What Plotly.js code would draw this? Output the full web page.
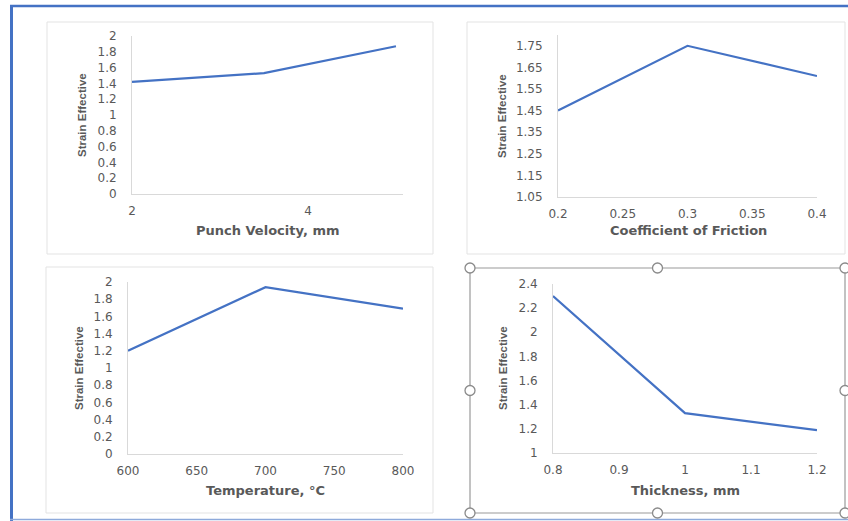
<!DOCTYPE html>
<html>
<head>
<meta charset="utf-8">
<script src="https://cdn.plot.ly/plotly-3.0.1.min.js"></script>
<style>html,body{margin:0;padding:0;background:#fff;}#chart{width:848px;height:521px;}</style>
</head>
<body>
<div id="chart"></div>
<script>
// ---- data ----
var velocity = [2, 3.5, 5];
var strainVelocity = [1.42, 1.53, 1.87];
var friction = [0.2, 0.3, 0.4];
var strainFriction = [1.45, 1.75, 1.61];
var temperature = [600, 700, 800];
var strainTemperature = [1.20, 1.94, 1.69];
var thickness = [0.8, 1.0, 1.2];
var strainThickness = [2.30, 1.33, 1.19];
var yTitle = "Strain Effective";
var xTitles = ["Punch Velocity, mm", "Coefficient of Friction", "Temperature, \u00B0C", "Thickness, mm"];

var W = 848, H = 521;
function px(x){ return x / W; }
function py(y){ return 1 - y / H; }

var lineColor = "#4472C4";
var tickFont = {family: "DejaVu Sans, sans-serif", size: 12, color: "#595959"};
var xTitleFont = {family: "DejaVu Sans, sans-serif", size: 13, color: "#595959", weight: "bold"};
var yTitleFont = {family: "Liberation Sans, Arial, sans-serif", size: 11.5, color: "#595959", weight: "bold"};

function trace(x, y, xa, ya){
  return {x: x, y: y, xaxis: xa, yaxis: ya, type: "scatter", mode: "lines",
          line: {color: lineColor, width: 2.2}, hoverinfo: "x+y"};
}
var data = [
  trace(velocity, strainVelocity, "x", "y"),
  trace(friction, strainFriction, "x2", "y2"),
  trace(temperature, strainTemperature, "x3", "y3"),
  trace(thickness, strainThickness, "x4", "y4")
];

function xax(d0, d1, range, dtick, tick0, anchor){
  return {domain: [px(d0), px(d1)], range: range, dtick: dtick, tick0: tick0, anchor: anchor,
          showline: true, linecolor: "#d9d9d9", linewidth: 1, showgrid: false, zeroline: false,
          ticks: "", tickfont: tickFont, ticklabelstandoff: 6, fixedrange: true};
}
function yax(top, bottom, range, dtick, tick0, anchor, fmt){
  return {domain: [py(bottom), py(top)], range: range, dtick: dtick, tick0: tick0, anchor: anchor,
          showline: true, linecolor: "#d9d9d9", linewidth: 1, showgrid: false, zeroline: false,
          ticks: "", tickfont: tickFont, ticklabelstandoff: 12, tickformat: fmt, fixedrange: true};
}

// plot areas (pixels): S1 x132-403 y36-194 ; S2 x558-817 y35-197 ; S3 x128-403 y282-454 ; S4 x553-817 y284-453
var layout = {
  width: W, height: H, margin: {l: 0, r: 0, t: 0, b: 0},
  paper_bgcolor: "#ffffff", plot_bgcolor: "rgba(0,0,0,0)", showlegend: false,
  xaxis:  xax(132, 403, [2, 5.08], 2, 0, "y"),
  yaxis:  yax(36, 194, [0, 2], 0.2, 0, "x", ""),
  xaxis2: xax(558, 817, [0.2, 0.4], 0.05, 0.2, "y2"),
  yaxis2: yax(35, 197, [1.05, 1.8], 0.1, 1.05, "x2", ".2f"),
  xaxis3: xax(128, 403, [600, 800], 50, 600, "y3"),
  yaxis3: yax(282, 454, [0, 2], 0.2, 0, "x3", ""),
  xaxis4: xax(553, 817, [0.8, 1.2], 0.1, 0.8, "y4"),
  yaxis4: yax(284, 453, [1, 2.4], 0.2, 1, "x4", ""),
  annotations: [],
  shapes: []
};

// axis titles as annotations
var xt = [[267, 230], [688, 230], [265, 490], [685, 490]];
var ytp = [[82, 115], [502, 116], [79, 368], [503, 368]];
for (var i = 0; i < 4; i++){
  layout.annotations.push({text: xTitles[i], xref: "paper", yref: "paper", x: px(xt[i][0]), y: py(xt[i][1]),
    xanchor: "center", yanchor: "middle", showarrow: false, font: xTitleFont});
  layout.annotations.push({text: yTitle, xref: "paper", yref: "paper", x: px(ytp[i][0]), y: py(ytp[i][1]),
    xanchor: "center", yanchor: "middle", showarrow: false, textangle: -90, font: yTitleFont});
}

function rect(x0, y0, x1, y1, col, w){
  layout.shapes.push({type: "rect", xref: "paper", yref: "paper", x0: px(x0), x1: px(x1), y0: py(y0), y1: py(y1),
    line: {color: col, width: w}, fillcolor: "rgba(0,0,0,0)", layer: "below"});
}
function seg(x0, y0, x1, y1, col, w){
  layout.shapes.push({type: "line", xref: "paper", yref: "paper", x0: px(x0), x1: px(x1), y0: py(y0), y1: py(y1),
    line: {color: col, width: w}});
}
// chart frames
rect(47, 22, 433, 254, "#e3e3e3", 1);
rect(467, 22, 845, 254, "#e3e3e3", 1);
rect(46, 267, 433, 513, "#e3e3e3", 1);
rect(470, 268, 845, 513, "#9a9a9a", 1.2);
// outer blue frame
seg(11.5, 5, 11.5, 521, "#4472C4", 3);
seg(10, 6, 848, 6, "#4472C4", 2.5);
seg(10, 519.5, 848, 519.5, "#8eaadb", 1.5);
// selection handles
var hx = [470, 657.5, 845], hy = [268, 390.5, 513];
for (var a = 0; a < 3; a++){
  for (var b = 0; b < 3; b++){
    if (a === 1 && b === 1) continue;
    var cx = hx[a], cy = hy[b], r = 5;
    layout.shapes.push({type: "circle", xref: "paper", yref: "paper",
      x0: px(cx - r), x1: px(cx + r), y0: py(cy + r), y1: py(cy - r),
      line: {color: "#8a8a8a", width: 1.3}, fillcolor: "#ffffff"});
  }
}

Plotly.newPlot("chart", data, layout, {displayModeBar: false, staticPlot: true});
</script>
</body>
</html>
